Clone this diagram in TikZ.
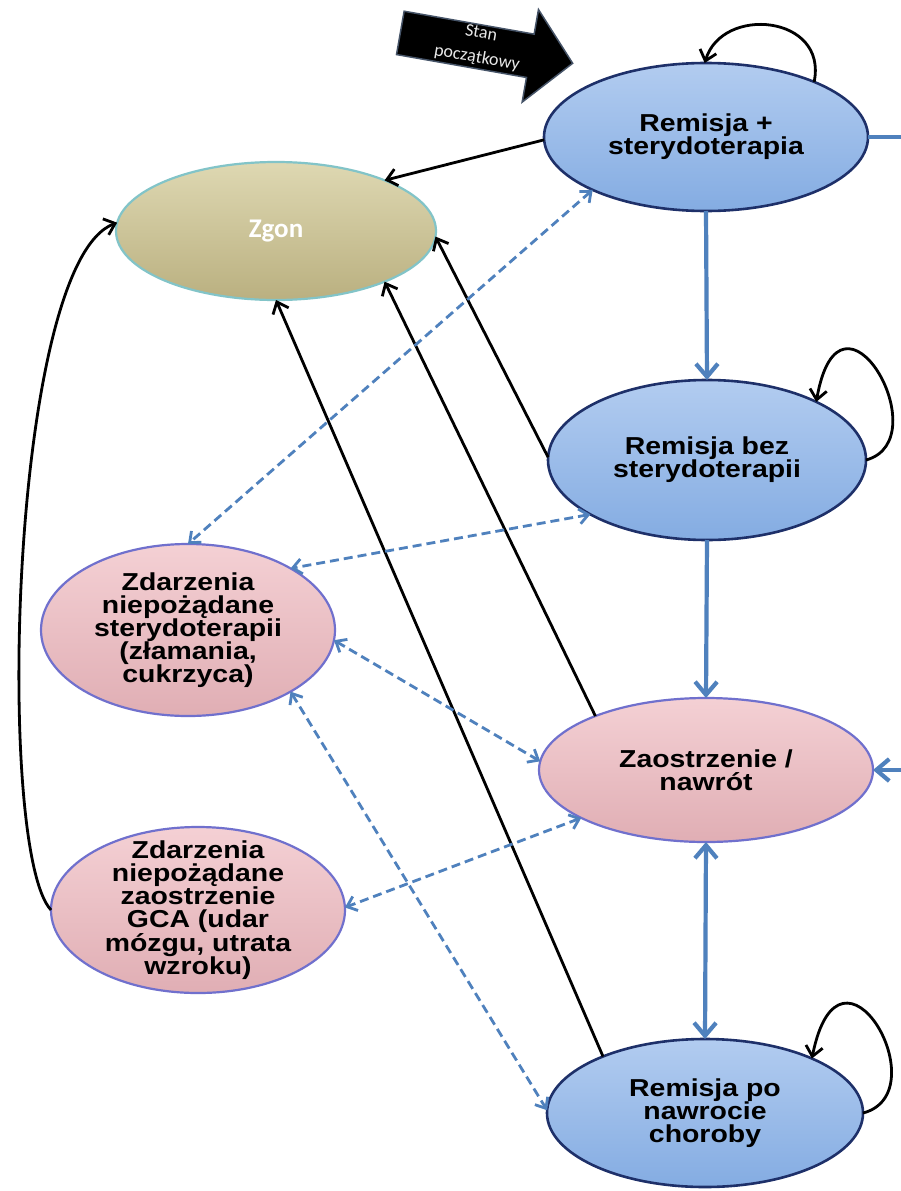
\documentclass[tikz,border=0pt]{standalone}
\usepackage{fontspec}
\setmainfont{Liberation Sans}
\newfontfamily\labfont[FakeStretch=1.16]{Liberation Sans}
\newfontfamily\calfont{Carlito}
\usetikzlibrary{arrows.meta,shapes.geometric}
\definecolor{offblue}{RGB}{79,129,189}
\definecolor{navyedge}{RGB}{30,48,105}
\definecolor{bluetop}{RGB}{178,204,240}
\definecolor{bluebot}{RGB}{132,172,226}
\definecolor{pinktop}{RGB}{244,208,212}
\definecolor{pinkbot}{RGB}{224,174,180}
\definecolor{pinkedge}{RGB}{112,112,205}
\definecolor{khakitop}{RGB}{222,216,178}
\definecolor{khakibot}{RGB}{186,176,128}
\definecolor{khakiedge}{RGB}{130,196,200}
\definecolor{arrowedge}{RGB}{70,84,104}
\definecolor{arrowtext}{RGB}{232,232,232}
\begin{document}
\begin{tikzpicture}[x=1pt,y=-1pt,
  state/.style={ellipse, inner sep=-15pt, outer sep=0pt, line width=2.2pt, align=center,
    font=\labfont\bfseries\fontsize{24.5}{23}\selectfont},
  bluestate/.style={state, draw=navyedge, line width=2.6pt, top color=bluetop, bottom color=bluebot},
  pinkstate/.style={state, draw=pinkedge, top color=pinktop, bottom color=pinkbot},
  deadstate/.style={state, draw=khakiedge, top color=khakitop, bottom color=khakibot,
    text=white, font=\calfont\bfseries\fontsize{27}{28}\selectfont},
  blk/.style={line width=2.8pt, black, -{Straight Barb[length=10pt,width=17pt]}},
  bluemain/.style={line width=4.2pt, offblue, -{Straight Barb[length=13pt,width=22pt]}},
  bluedash/.style={line width=2.8pt, offblue, dash pattern=on 9pt off 5pt,
    {Straight Barb[length=9pt,width=15pt]}-{Straight Barb[length=9pt,width=15pt]}}
]
\useasboundingbox (0,0) rectangle (901,1191);
\fill[white] (0,0) rectangle (901,1191);

% start arrow
\begin{scope}[shift={(486,48)}, rotate=-10]
  \draw[fill=black, draw=arrowedge, line width=1.5pt, line join=miter]
    (-87,-22) -- (45,-22) -- (45,-47) -- (88,0) -- (45,47) -- (45,22) -- (-87,22) -- cycle;
\end{scope}
\node[rotate=-10, text=arrowtext, align=center, inner sep=0pt,
  font=\calfont\fontsize{18}{25}\selectfont] (start) at (479,46) {Stan\\początkowy};

% states
\node[bluestate, minimum width=324pt, minimum height=148pt] (rp) at (706,137) {Remisja +\\sterydoterapia};
\node[deadstate, minimum width=320pt, minimum height=138pt] (zg) at (276,231) {Zgon};
\node[bluestate, minimum width=318pt, minimum height=160pt] (rb) at (707,460) {Remisja bez\\sterydoterapii};
\node[pinkstate, minimum width=294pt, minimum height=172pt] (ns) at (188,630) {Zdarzenia\\niepożądane\\sterydoterapii\\(złamania,\\cukrzyca)};
\node[pinkstate, minimum width=334pt, minimum height=144pt] (za) at (706,770) {Zaostrzenie /\\nawrót};
\node[pinkstate, minimum width=294pt, minimum height=166pt] (ng) at (198,910) {Zdarzenia\\niepożądane\\zaostrzenie\\GCA (udar\\mózgu, utrata\\wzroku)};
\node[bluestate, minimum width=316pt, minimum height=148pt] (rn) at (705,1113) {Remisja po\\nawrocie\\choroby};

% main blue flow
\draw[bluemain] (rp.south) -- (rb.north);
\draw[bluemain] (rb.south) -- (za.north);
\draw[bluemain, {Straight Barb[length=13pt,width=22pt]}-{Straight Barb[length=13pt,width=22pt]}] (za.south) -- (rn.north);
\coordinate (rtop) at (915,137);
\coordinate (rbot) at (915,770);
\draw[bluemain] (rp.east) -- (rtop) -- (rbot) -- (za.east);

% transitions to death
\draw[blk] (rp.181) -- (zg.25);
\draw[blk] (rb.179) -- (zg.-2);
\draw[blk] (za.154) -- (zg.-25);
\draw[blk] (rn.151) -- (zg.-90);
\draw[blk] (ng.west) .. controls (-5,850) and (10,262) .. (zg.177);

% self loops
\draw[blk] (rp.27) .. controls (828,15) and (722,5) .. (rp.91);
\draw[blk] (rb.0) .. controls (940,440) and (840,265) .. (rb.28);
\draw[blk] (rn.0) .. controls (940,1093) and (840,918) .. (rn.27);

% adverse event links
\draw[bluedash] (rp.205) -- (ns.90);
\draw[bluedash] (rb.205) -- (ns.31);
\draw[bluedash] (ns.-4) -- (za.177);
\draw[bluedash] (ns.-31) -- (rn.179);
\draw[bluedash] (za.201) -- (ng.1);
\end{tikzpicture}
\end{document}
